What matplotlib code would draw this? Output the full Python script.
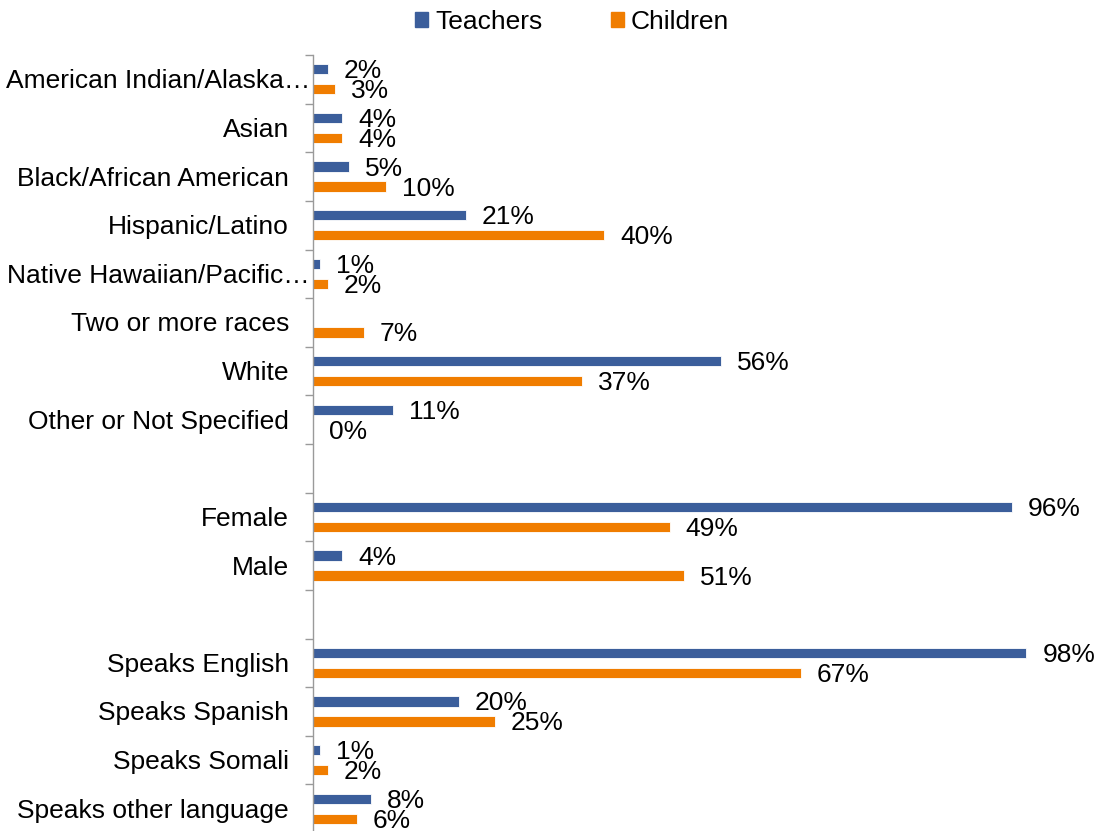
import numpy as np
import matplotlib.pyplot as plt
import matplotlib.transforms as mtransforms
from matplotlib.patches import Patch

plt.rcParams['font.family'] = ['Liberation Sans', 'DejaVu Sans']

# rows top to bottom; "" rows are spacers between groups
categories = ["American Indian/Alaska…", "Asian", "Black/African American",
              "Hispanic/Latino", "Native Hawaiian/Pacific…", "Two or more races",
              "White", "Other or Not Specified", "",
              "Female", "Male", "",
              "Speaks English", "Speaks Spanish", "Speaks Somali",
              "Speaks other language"]
teachers = [2, 4, 5, 21, 1, None, 56, 11, None, 96, 4, None, 98, 20, 1, 8]
children = [3, 4, 10, 40, 2, 7, 37, 0, None, 49, 51, None, 67, 25, 2, 6]

blue = '#3B5E9B'
orange = '#F07D00'
fs = 19

W, H = 1099, 831
fig = plt.figure(figsize=(W / 100, H / 100), dpi=100)
# axes runs slightly past the bottom edge
ax = fig.add_axes([313 / W, 1 - 833 / H, 728 / W, (833 - 55) / H])

n = len(categories)
y = np.arange(n)
off = 0.205
h = 0.21

for vals, color, dy in [(teachers, blue, -off), (children, orange, off)]:
    for i, v in enumerate(vals):
        if v is None:
            continue
        ax.barh(i + dy, v, height=h, color=color, edgecolor='#ffffff',
                linewidth=0.6)
        ax.annotate(f"{v}%", (v, i + dy), xytext=(16, -2),
                    textcoords='offset pixels', va='center', ha='left',
                    fontsize=fs, color='black', annotation_clip=False)

ax.set_xlim(0, 100)
ax.set_ylim(n - 0.5, -0.5)

# category names drawn as text so the clipped ones can sit closer to the axis
lab_tr = mtransforms.blended_transform_factory(ax.transAxes, ax.transData)
for i, name in enumerate(categories):
    dx = -3 if name.endswith('…') else -24
    ax.annotate(name, (0, i), xycoords=lab_tr, xytext=(dx, -2),
                textcoords='offset pixels', ha='right', va='center',
                fontsize=fs, color='black', annotation_clip=False)

ax.set_yticks([])
ax.set_yticks(np.arange(n + 1) - 0.5, minor=True)
ax.tick_params(axis='y', which='minor', length=6, width=1, color='#9a9a9a')
ax.set_xticks([])

for s in ['top', 'right', 'bottom']:
    ax.spines[s].set_visible(False)
ax.spines['left'].set_color('#9a9a9a')
ax.spines['left'].set_linewidth(1)

handles = [Patch(color=blue, label='Teachers'), Patch(color=orange, label='Children')]
fig.legend(handles=handles, loc='center', bbox_to_anchor=(572 / W, 1 - 22 / H),
           ncol=2, frameon=False, fontsize=fs, handlelength=0.5, handleheight=0.5,
           handletextpad=0.25, columnspacing=2.6)

fig.savefig('out.png', dpi=100)
